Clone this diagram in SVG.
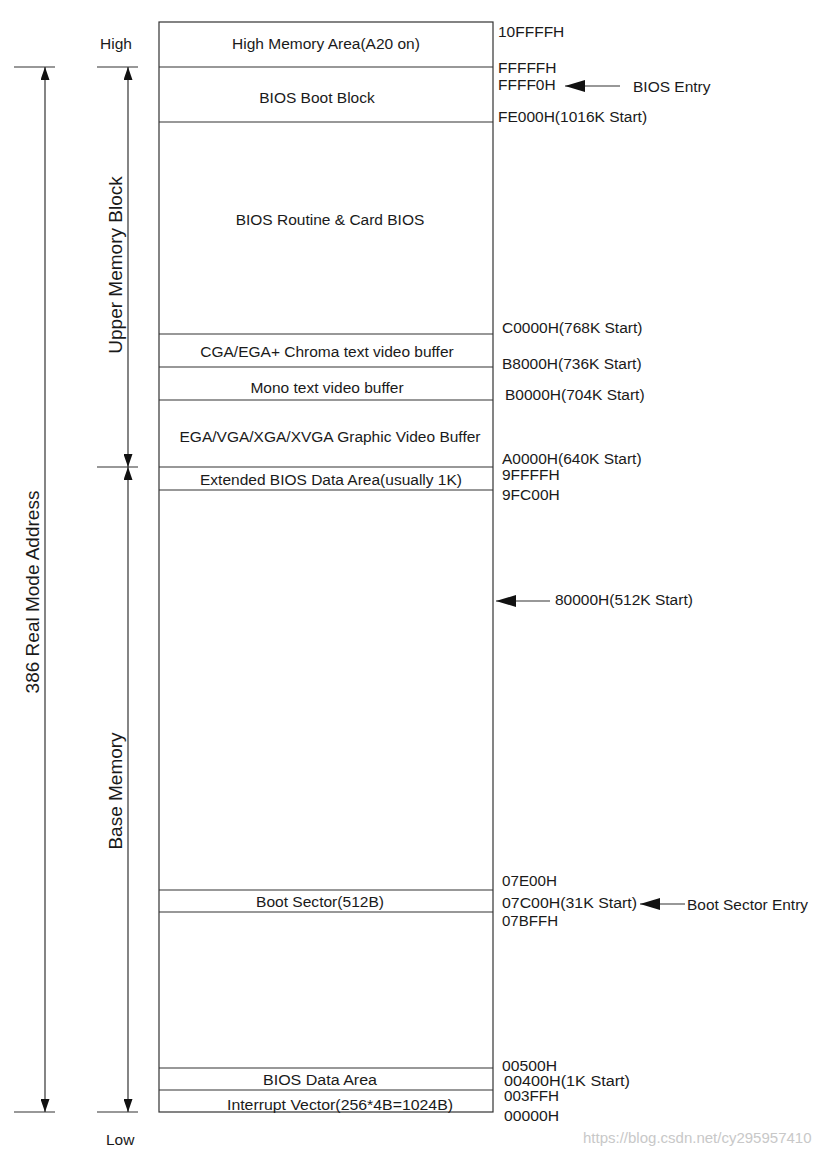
<svg xmlns="http://www.w3.org/2000/svg" width="832" height="1156" viewBox="0 0 832 1156">
<style>
text{font-family:"Liberation Sans",Arial,sans-serif;font-size:15.5px;fill:#1a1a1a}
.c{text-anchor:middle}
.v{font-size:19px;text-anchor:middle}
.ln{stroke:#333;stroke-width:1.2;fill:none}
.wm{fill:#c8c8c8;font-size:15px}
</style>
<defs>
<marker id="ah" markerWidth="13" markerHeight="9" refX="13" refY="4.5" orient="auto" markerUnits="userSpaceOnUse">
<path d="M0,0 L13,4.5 L0,9 Z" fill="#111"/>
</marker>
<marker id="ahb" markerWidth="20" markerHeight="12" refX="20" refY="6" orient="auto" markerUnits="userSpaceOnUse">
<path d="M0,0 L20,6 L0,12 Z" fill="#111"/>
</marker>
</defs>
<rect width="832" height="1156" fill="#fff"/>
<g id="memory-map">
<rect x="159" y="22" width="334" height="1090" class="ln"/>
<g id="hma"><text x="326" y="49" class="c">High Memory Area(A20 on)</text></g>
<line x1="159" y1="67" x2="493" y2="67" class="ln"/>
<g id="bios-boot"><text x="317" y="103" class="c">BIOS Boot Block</text></g>
<line x1="159" y1="122" x2="493" y2="122" class="ln"/>
<g id="bios-routine"><text x="330" y="225" class="c">BIOS Routine &amp; Card BIOS</text></g>
<line x1="159" y1="334" x2="493" y2="334" class="ln"/>
<g id="cga"><text x="327" y="357" class="c">CGA/EGA+ Chroma text video buffer</text></g>
<line x1="159" y1="367" x2="493" y2="367" class="ln"/>
<g id="mono"><text x="327" y="393" class="c">Mono text video buffer</text></g>
<line x1="159" y1="400" x2="493" y2="400" class="ln"/>
<g id="ega"><text x="330" y="442" class="c">EGA/VGA/XGA/XVGA Graphic Video Buffer</text></g>
<line x1="159" y1="467" x2="493" y2="467" class="ln"/>
<g id="ebda"><text x="331" y="485" class="c">Extended BIOS Data Area(usually 1K)</text></g>
<line x1="159" y1="490" x2="493" y2="490" class="ln"/>
<line x1="159" y1="890" x2="493" y2="890" class="ln"/>
<g id="boot-sector"><text x="320" y="907" class="c" textLength="128" lengthAdjust="spacingAndGlyphs">Boot Sector(512B)</text></g>
<line x1="159" y1="912" x2="493" y2="912" class="ln"/>
<line x1="159" y1="1068" x2="493" y2="1068" class="ln"/>
<g id="bda"><text x="320" y="1085" class="c" textLength="114" lengthAdjust="spacingAndGlyphs">BIOS Data Area</text></g>
<line x1="159" y1="1090" x2="493" y2="1090" class="ln"/>
<g id="ivt"><text x="340" y="1110" class="c" textLength="226" lengthAdjust="spacingAndGlyphs">Interrupt Vector(256*4B=1024B)</text></g>
</g>
<g id="addresses">
<text x="498" y="37">10FFFFH</text>
<text x="498" y="73">FFFFFH</text>
<text x="498" y="90">FFFF0H</text>
<text x="498" y="122">FE000H(1016K Start)</text>
<text x="502" y="333">C0000H(768K Start)</text>
<text x="502" y="369">B8000H(736K Start)</text>
<text x="505" y="400">B0000H(704K Start)</text>
<text x="502" y="464">A0000H(640K Start)</text>
<text x="502" y="480">9FFFFH</text>
<text x="502" y="500">9FC00H</text>
<text x="555" y="605">80000H(512K Start)</text>
<text x="502" y="886" textLength="55" lengthAdjust="spacingAndGlyphs">07E00H</text>
<text x="502" y="908" textLength="135" lengthAdjust="spacingAndGlyphs">07C00H(31K Start)</text>
<text x="502" y="926" textLength="56" lengthAdjust="spacingAndGlyphs">07BFFH</text>
<text x="502" y="1071" textLength="55" lengthAdjust="spacingAndGlyphs">00500H</text>
<text x="504" y="1086" textLength="126" lengthAdjust="spacingAndGlyphs">00400H(1K Start)</text>
<text x="504" y="1101" textLength="55" lengthAdjust="spacingAndGlyphs">003FFH</text>
<text x="504" y="1121" textLength="55" lengthAdjust="spacingAndGlyphs">00000H</text>
</g>
<g id="entries">
<text x="633" y="92">BIOS Entry</text>
<text x="687" y="910" textLength="121" lengthAdjust="spacingAndGlyphs">Boot Sector Entry</text>
</g>
<g id="side-labels">
<text x="100" y="49">High</text>
<text x="106" y="1145">Low</text>
<text class="v" transform="translate(39,592) rotate(-90)">386 Real Mode Address</text>
<text class="v" transform="translate(122,265) rotate(-90)">Upper Memory Block</text>
<text class="v" transform="translate(122,791) rotate(-90)">Base Memory</text>
</g>
<g id="connectors">
<line x1="14" y1="67" x2="55" y2="67" class="ln"/>
<line x1="14" y1="1112" x2="55" y2="1112" class="ln"/>
<line x1="97" y1="67" x2="138" y2="67" class="ln"/>
<line x1="97" y1="467" x2="138" y2="467" class="ln"/>
<line x1="97" y1="1112" x2="138" y2="1112" class="ln"/>
<line x1="45" y1="590" x2="45" y2="67" class="ln" marker-end="url(#ah)"/>
<line x1="45" y1="590" x2="45" y2="1112" class="ln" marker-end="url(#ah)"/>
<line x1="128" y1="270" x2="128" y2="67" class="ln" marker-end="url(#ah)"/>
<line x1="128" y1="270" x2="128" y2="467" class="ln" marker-end="url(#ah)"/>
<line x1="128" y1="790" x2="128" y2="467" class="ln" marker-end="url(#ah)"/>
<line x1="128" y1="790" x2="128" y2="1112" class="ln" marker-end="url(#ah)"/>
<line x1="620" y1="86" x2="565" y2="86" class="ln" marker-end="url(#ahb)"/>
<line x1="550" y1="601" x2="496" y2="601" class="ln" marker-end="url(#ahb)"/>
<line x1="685" y1="904" x2="640" y2="904" class="ln" marker-end="url(#ahb)"/>
</g>
<text class="wm" x="583" y="1143">https://blog.csdn.net/cy295957410</text>
</svg>
